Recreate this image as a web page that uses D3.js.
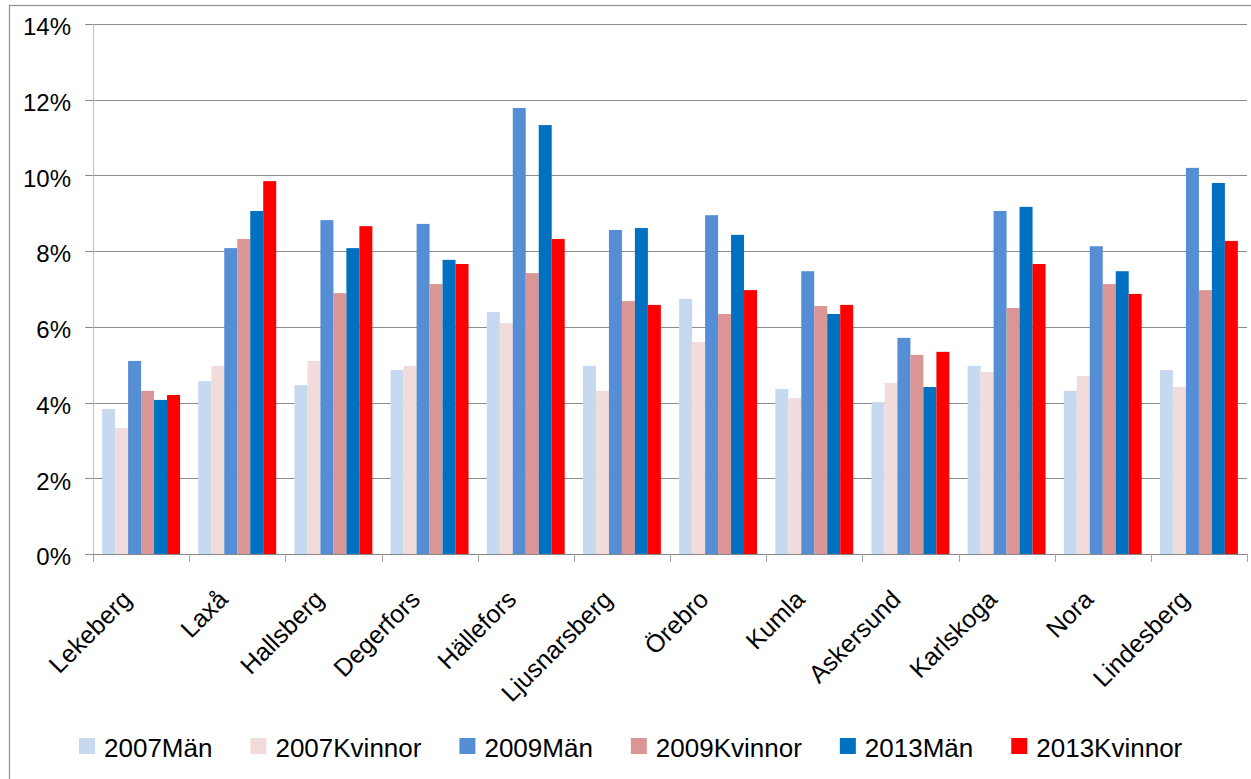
<!DOCTYPE html>
<html>
<head>
<meta charset="utf-8">
<script src="https://cdn.jsdelivr.net/npm/d3@7"></script>
<style>
  body { margin: 0; background: #fff; }
  svg { display: block; font-family: "Liberation Sans", Arial, sans-serif; }
</style>
</head>
<body>
<div id="chart"></div>
<script>
// kommuner
const categories = ["Lekeberg", "Laxå", "Hallsberg", "Degerfors", "Hällefors", "Ljusnarsberg",
  "Örebro", "Kumla", "Askersund", "Karlskoga", "Nora", "Lindesberg"];
const seriesNames = ["2007Män", "2007Kvinnor", "2009Män", "2009Kvinnor", "2013Män", "2013Kvinnor"];
const seriesColors = ["#C6D9F1", "#F2DCDB", "#558ED5", "#D99694", "#0070C0", "#FF0000"];

// values in percent
const v2007Man = [3.83, 4.57, 4.46, 4.86, 6.39, 4.97, 6.74, 4.36, 4.01, 4.97, 4.31, 4.86];
const v2007Kvinnor = [3.33, 4.97, 5.10, 4.97, 6.10, 4.31, 5.60, 4.12, 4.52, 4.81, 4.70, 4.41];
const v2009Man = [5.10, 8.08, 8.82, 8.72, 11.78, 8.56, 8.95, 7.47, 5.71, 9.06, 8.13, 10.20];
const v2009Kvinnor = [4.31, 8.32, 6.89, 7.13, 7.42, 6.68, 6.34, 6.55, 5.26, 6.50, 7.13, 6.97];
const v2013Man = [4.07, 9.06, 8.08, 7.77, 11.33, 8.61, 8.43, 6.34, 4.41, 9.17, 7.47, 9.80];
const v2013Kvinnor = [4.20, 9.85, 8.66, 7.66, 8.32, 6.58, 6.97, 6.58, 5.34, 7.66, 6.87, 8.27];
const yTicks = [0, 2, 4, 6, 8, 10, 12, 14];

const allSeries = [v2007Man, v2007Kvinnor, v2009Man, v2009Kvinnor, v2013Man, v2013Kvinnor];

const W = 1251, H = 779;
const plot = { left: 93, right: 1247, top: 24, bottom: 554 };

const svg = d3.select("#chart").append("svg")
  .attr("width", W).attr("height", H);

// outer chart border
svg.append("rect")
  .attr("x", 9.5).attr("y", 5.5)
  .attr("width", 1300).attr("height", 900)
  .attr("fill", "none").attr("stroke", "#8e8e8e").attr("stroke-width", 1.2);

let x0 = d3.scaleBand()
  .domain(categories)
  .range([plot.left, plot.right])
  .paddingInner(0.19)
  .paddingOuter(0.095);

let x1 = d3.scaleBand()
  .domain(seriesNames)
  .range([0, x0.bandwidth()]);

let y = d3.scaleLinear()
  .domain([0, 14])
  .range([plot.bottom, plot.top]);

let color = d3.scaleOrdinal().domain(seriesNames).range(seriesColors);

// gridlines
svg.append("g")
  .attr("class", "grid")
  .attr("transform", `translate(${plot.left},0)`)
  .call(d3.axisLeft(y).tickValues(yTicks).tickSize(-(plot.right - plot.left)).tickFormat(""))
  .call(g => g.select(".domain").remove())
  .call(g => g.selectAll("line").attr("stroke", "#8c8c8c").attr("shape-rendering", "crispEdges"));

// y axis
let yAxis = svg.append("g")
  .attr("transform", `translate(${plot.left},0)`)
  .call(d3.axisLeft(y).tickValues(yTicks).tickSize(8).tickPadding(14).tickFormat(d => d + "%"));
yAxis.select(".domain").attr("stroke", "#bdbdbd").attr("shape-rendering", "crispEdges");
yAxis.selectAll(".tick line").attr("stroke", "#8c8c8c").attr("shape-rendering", "crispEdges");
yAxis.selectAll(".tick text")
  .attr("font-size", 24)
  .attr("fill", "#000")
  .attr("dy", "0.45em")
  .style("font-family", '"Liberation Sans", Arial, sans-serif');

// bars
let rows = categories.map((c, i) => ({
  name: c,
  values: seriesNames.map((s, j) => ({ key: s, value: allSeries[j][i] }))
}));

svg.append("g")
  .selectAll("g")
  .data(rows).enter()
  .append("g")
  .attr("transform", d => `translate(${x0(d.name)},0)`)
  .selectAll("rect")
  .data(d => d.values).enter()
  .append("rect")
  .attr("x", d => x1(d.key))
  .attr("width", x1.bandwidth())
  .attr("y", d => y(d.value))
  .attr("height", d => y(0) - y(d.value))
  .attr("fill", d => color(d.key));

// x axis line and boundary ticks
let step = x0.step();
let bounds = d3.range(categories.length + 1).map(i => plot.left + i * step);
svg.append("line")
  .attr("x1", plot.left).attr("x2", plot.right)
  .attr("y1", plot.bottom + 0.5).attr("y2", plot.bottom + 0.5)
  .attr("stroke", "#868686");
svg.append("g")
  .selectAll("line")
  .data(bounds).enter()
  .append("line")
  .attr("x1", d => Math.round(d) + 0.5).attr("x2", d => Math.round(d) + 0.5)
  .attr("y1", plot.bottom).attr("y2", plot.bottom + 8)
  .attr("stroke", "#a6a6a6");

// rotated category labels, ending just left of the band centre
svg.append("g")
  .selectAll("text")
  .data(categories).enter()
  .append("text")
  .attr("transform", d => {
    let cx = x0(d) + x0.bandwidth() / 2 - 8;
    return `translate(${cx},601) rotate(-45)`;
  })
  .attr("text-anchor", "end")
  .attr("font-size", 25)
  .attr("fill", "#000")
  .text(d => d);

// legend
let legend = svg.append("g").attr("class", "legend");
let lx = 79;
seriesNames.forEach((s, i) => {
  let g = legend.append("g").attr("transform", `translate(${lx},0)`);
  g.append("rect")
    .attr("x", 0).attr("y", 738)
    .attr("width", 16).attr("height", 16)
    .attr("fill", seriesColors[i]);
  let t = g.append("text")
    .attr("x", 25).attr("y", 757)
    .attr("font-size", 26)
    .attr("fill", "#000")
    .text(s);
  lx += 25 + t.node().getComputedTextLength() + 38;
});
</script>
</body>
</html>
